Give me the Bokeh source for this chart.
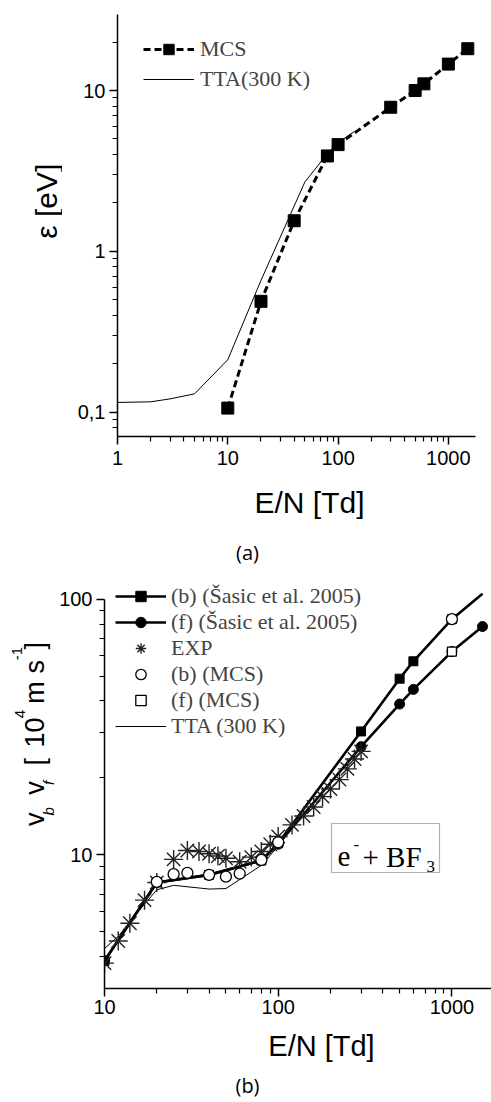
import math
from bokeh.plotting import figure
from bokeh.models import Range1d, FixedTicker, Legend, LegendItem, Label, BoxAnnotation
from bokeh.layouts import column, row
from bokeh.embed import file_html
from bokeh.resources import INLINE

# ---------------- data: panel (a) mean energy ----------------
en_a_mcs = [10, 20, 40, 80, 100, 300, 500, 600, 1000, 1500]
eps_mcs = [0.106, 0.489, 1.55, 3.92, 4.61, 7.87, 10.0, 11.0, 14.6, 18.2]
en_a_tta = [1, 2, 3, 5, 10, 20, 50, 80, 100, 140]
eps_tta = [0.115, 0.116, 0.121, 0.130, 0.212, 0.66, 2.7, 4.05, 4.75, 5.55]

# ---------------- data: panel (b) drift velocities ----------------
en_b_sasic = [10, 20, 40, 80, 100, 300, 500, 600, 1000, 1500]
vb_sasic = [3.85, 7.8, 8.35, 9.5, 11.1, 30.4, 48.9, 57.2, 83.6, 105.0]
vf_sasic = [3.85, 7.8, 8.35, 9.5, 11.0, 26.5, 38.9, 44.4, 62.4, 78.2]
en_exp = [10, 12, 14, 17, 20, 25, 30, 35, 40, 45, 50, 60, 70, 80, 90, 100,
          120, 140, 160, 180, 200, 225, 250, 275, 300]
v_exp = [3.77, 4.6, 5.4, 6.65, 7.8, 9.6, 10.4, 10.3, 10.1, 9.9, 9.7, 9.4, 9.8,
         10.3, 11.0, 11.8, 13.1, 14.2, 15.4, 16.9, 18.1, 19.7, 21.7, 23.7, 25.4]
en_b_mcs = [20, 25, 30, 40, 50, 60, 80, 100, 1000]
vb_mcs = [7.84, 8.4, 8.5, 8.35, 8.22, 8.45, 9.55, 11.2, 83.6]
en_f_mcs = [1000]
vf_mcs = [62.4]
en_b_tta = [10, 12, 15, 20, 25, 40, 50, 80, 100, 120, 140]
v_tta = [4.3, 4.8, 5.8, 7.3, 7.6, 7.35, 7.38, 9.1, 10.8, 12.9, 14.6]

# ---------------- ticks ----------------
xa_major = [1, 10, 100, 1000]
xa_minor = [m * d for d in (1, 10, 100) for m in range(2, 10)]
ya_major = [0.1, 1, 10]
ya_minor = [0.08, 0.09] + [m * d for d in (0.1, 1) for m in range(2, 10)] + [20]
xa_labels = {1: "1", 10: "10", 100: "100", 1000: "1000"}
ya_labels = {0.1: "0,1", 1: "1", 10: "10"}

xb_major = [10, 100, 1000]
xb_minor = [m * d for d in (10, 100) for m in range(2, 10)]
yb_major = [10, 100]
yb_minor = [4, 5, 6, 7, 8, 9] + [m * 10 for m in range(2, 10)]
xb_labels = {10: "10", 100: "100", 1000: "1000"}
yb_labels = {10: "10", 100: "100"}
YB_MAX = 100.0  # top of the (b) velocity axis

SANS = "Liberation Sans"
SERIF = "Liberation Serif"


def style(p, xt, xm, yt, ym, xl, yl, xstand, ystand):
    p.outline_line_color = None
    p.grid.visible = False
    p.background_fill_color = "white"
    p.border_fill_color = "white"
    p.xaxis.ticker = FixedTicker(ticks=xt, minor_ticks=xm)
    p.yaxis.ticker = FixedTicker(ticks=yt, minor_ticks=ym)
    p.xaxis.major_label_overrides = {float(k): v for k, v in xl.items()}
    p.yaxis.major_label_overrides = {float(k): v for k, v in yl.items()}
    for ax in (p.xaxis[0], p.yaxis[0]):
        ax.axis_line_width = 1.5
        ax.axis_line_color = "black"
        ax.major_tick_line_width = 1.5
        ax.minor_tick_line_width = 1.2
        ax.major_tick_line_color = "black"
        ax.minor_tick_line_color = "black"
        ax.major_tick_out = 8
        ax.major_tick_in = 0
        ax.minor_tick_out = 5
        ax.minor_tick_in = 0
        ax.major_label_text_font = SANS
        ax.major_label_text_font_size = "20px"
        ax.major_label_text_color = "black"
    p.xaxis.major_label_standoff = xstand
    p.yaxis.major_label_standoff = ystand


def text_fig(w, h):
    f = figure(width=w, height=h, x_range=Range1d(0, w), y_range=Range1d(h, 0),
               output_backend="svg", toolbar_location=None, min_border=0,
               x_axis_location=None, y_axis_location=None)
    f.outline_line_color = None
    f.grid.visible = False
    f.background_fill_color = "white"
    f.border_fill_color = "white"
    return f


def lab(p, x, y, text, font=SANS, size="20px", align="left", base="alphabetic",
        angle=0.0, style_="normal", units="data"):
    p.add_layout(Label(x=x, y=y, x_units=units, y_units=units, text=text,
                       text_font=font, text_font_size=size, text_align=align,
                       text_baseline=base, angle=angle, angle_units="rad",
                       text_color="black", text_font_style=style_))


def legend_style(lg, spacing, standoff):
    lg.label_text_font = SERIF
    lg.label_text_font_size = "22px"
    lg.glyph_width = 51
    lg.glyph_height = 26
    lg.label_height = 26
    lg.spacing = spacing
    lg.label_standoff = standoff
    lg.padding = 0
    lg.margin = 0
    lg.border_line_color = None
    lg.background_fill_alpha = 0


rot = math.pi / 2

# ================= panel (a) =================
# page y 0..476 ; frame: left 117, right 475, top 14, bottom 436
ylab_a = text_fig(62, 476)
lab(ylab_a, 46, 253, "\u03b5 [eV]", size="30px", angle=rot, base="middle")

pa = figure(width=429, height=476, x_axis_type="log", y_axis_type="log",
            x_range=Range1d(1, 1762), y_range=Range1d(0.0706, 29.7),
            output_backend="svg", toolbar_location=None,
            min_border_left=55, min_border_right=16, min_border_top=14,
            min_border_bottom=40)
style(pa, xa_major, xa_minor, ya_major, ya_minor, xa_labels, ya_labels, 6, 4)

ra_tta = pa.line(en_a_tta, eps_tta, line_width=1, color="black")
ra_mcs_l = pa.line(en_a_mcs, eps_mcs, line_width=3, line_dash="7 4", color="black")
ra_mcs_p = pa.scatter(en_a_mcs, eps_mcs, marker="square", size=12, color="black")

leg_a = Legend(items=[LegendItem(label="MCS", renderers=[ra_mcs_l, ra_mcs_p]),
                      LegendItem(label="TTA(300 K)", renderers=[ra_tta])],
               location=(26, 344))
legend_style(leg_a, 4, 6)
pa.add_layout(leg_a)

# caption strip (a): page y 476..570
cap_a = text_fig(491, 94)
lab(cap_a, 309, 502 - 476, "E/N [Td]", size="30px", align="center", base="middle")
lab(cap_a, 247, 552 - 476, "(a)", font="Open Sans", size="20px", align="center",
    base="middle")

# ================= panel (b) =================
# page y 570..1025 ; frame: left 104, right 491, top 582, bottom 988 (axis bounded 3..100)
ylab_b = text_fig(56, 455)
Y0 = 570
lab(ylab_b, 34, 843 - Y0, "v", size="27px", angle=rot, base="middle")
lab(ylab_b, 48, 831 - Y0, "b", size="15px", angle=rot, base="middle", style_="italic")
lab(ylab_b, 34, 808 - Y0, "v", size="27px", angle=rot, base="middle")
lab(ylab_b, 48, 797 - Y0, "f", size="15px", angle=rot, base="middle", style_="italic")
lab(ylab_b, 34, 775 - Y0, "[", size="27px", angle=rot, base="middle")
lab(ylab_b, 34, 755 - Y0, "10", size="27px", angle=rot, base="middle")
lab(ylab_b, 19, 722 - Y0, "4", size="15px", angle=rot, base="middle")
lab(ylab_b, 34, 706 - Y0, "m", size="27px", angle=rot, base="middle")
lab(ylab_b, 34, 672 - Y0, "s", size="27px", angle=rot, base="middle")
lab(ylab_b, 16, 657 - Y0, "-1", size="15px", angle=rot, base="middle")
lab(ylab_b, 34, 645 - Y0, "]", size="27px", angle=rot, base="middle")

pb = figure(width=435, height=455, x_axis_type="log", y_axis_type="log",
            x_range=Range1d(10, 1690), y_range=Range1d(3.0, 116.3),
            output_backend="svg", toolbar_location=None,
            min_border_left=48, min_border_right=0, min_border_top=12,
            min_border_bottom=37)
style(pb, xb_major, xb_minor, yb_major, yb_minor, xb_labels, yb_labels, 3, 4)
pb.yaxis.bounds = (3.0, YB_MAX)

# markers only where they fall inside the velocity axis (the 1500 Td (b) point is off-scale)
vis_b = [i for i, v in enumerate(vb_sasic) if v <= YB_MAX]
en_b_vis = [en_b_sasic[i] for i in vis_b]
vb_vis = [vb_sasic[i] for i in vis_b]

rb_tta = pb.line(en_b_tta, v_tta, line_width=1, color="black")
rb_b_l = pb.line(en_b_sasic, vb_sasic, line_width=2.6, color="black")
rb_f_l = pb.line(en_b_sasic, vf_sasic, line_width=2.6, color="black")
rb_b_p = pb.scatter(en_b_vis, vb_vis, marker="square", size=9, color="black")
rb_f_p = pb.scatter(en_b_sasic, vf_sasic, marker="circle", size=10, color="black")
rb_exp = pb.scatter(en_exp, v_exp, marker="asterisk", size=19, line_color="#222222",
                    line_width=1.4)
rb_bm = pb.scatter(en_b_mcs, vb_mcs, marker="circle", size=11, fill_color="white",
                   line_color="black", line_width=1.3)
rb_fm = pb.scatter(en_f_mcs, vf_mcs, marker="square", size=9, fill_color="white",
                   line_color="black", line_width=1.3)

leg_b = Legend(items=[
    LegendItem(label="(b) (\u0160asic et al. 2005)", renderers=[rb_b_l, rb_b_p]),
    LegendItem(label="(f) (\u0160asic et al. 2005)", renderers=[rb_f_l, rb_f_p]),
    LegendItem(label="EXP", renderers=[rb_exp]),
    LegendItem(label="(b) (MCS)", renderers=[rb_bm]),
    LegendItem(label="(f) (MCS)", renderers=[rb_fm]),
    LegendItem(label="TTA (300 K)", renderers=[rb_tta]),
], location=(11, 249))
legend_style(leg_b, 0, 5)
pb.add_layout(leg_b)

# e- + BF3 box (frame-relative screen coords)
FL, FB = 104, 988
pb.add_layout(BoxAnnotation(left=331 - FL, right=439 - FL, top=FB - 823, bottom=FB - 872,
                            left_units="screen", right_units="screen",
                            top_units="screen", bottom_units="screen",
                            fill_alpha=0, line_color="black", line_width=1.2))
lab(pb, 337 - FL, FB - 856, "e", font=SERIF, size="29px", units="screen")
lab(pb, 353 - FL, FB - 844, "-", font=SERIF, size="17px", units="screen")
lab(pb, 362 - FL, FB - 856, "+ BF", font=SERIF, size="29px", units="screen")
lab(pb, 426 - FL, FB - 866, "3", font=SERIF, size="17px", units="screen")

# caption strip (b): page y 1025..1100
cap_b = text_fig(491, 75)
lab(cap_b, 321, 1045 - 1025, "E/N [Td]", size="29px", align="center", base="middle")
lab(cap_b, 247, 1085 - 1025, "(b)", font="Open Sans", size="20px", align="center",
    base="middle")

layout = column(row(ylab_a, pa), cap_a, row(ylab_b, pb), cap_b)
open("out.html", "w").write(file_html(layout, INLINE))
